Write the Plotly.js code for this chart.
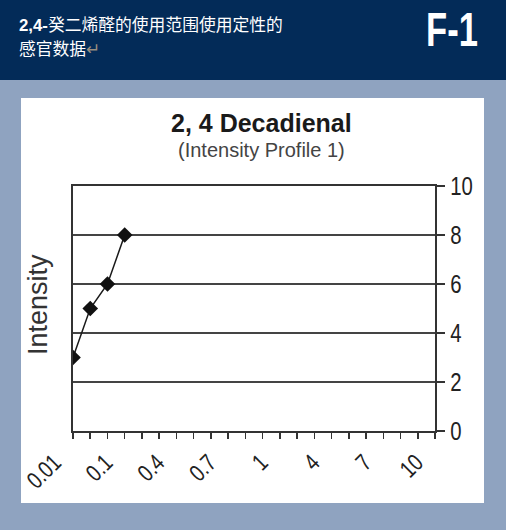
<!DOCTYPE html>
<html>
<head>
<meta charset="utf-8">
<script src="https://cdn.plot.ly/plotly-3.0.1.min.js"></script>
<style>
html,body{margin:0;padding:0;background:#8fa3c0;}
#chart{width:506px;height:530px;}
</style>
</head>
<body>
<div id="chart"></div>
<script>
// ---- data ----
const categories = ["0.01","0.04","0.07","0.1","0.2","0.3","0.4","0.5","0.6","0.7","0.8","0.9",
                    "1","2","3","4","5","6","7","8","9","10"];
const labelledCategories = ["0.01","0.1","0.4","0.7","1","4","7","10"];
const seriesX = ["0.01","0.04","0.07","0.1"];
const seriesY = [3, 5, 6, 8];
const yTicks = [0, 2, 4, 6, 8, 10];

const chartTitle = "2, 4 Decadienal";
const chartSubtitle = "(Intensity Profile 1)";
const yTitle = "Intensity";
const headerLine1 = "<b>2,4-</b>癸二烯醛的使用范围使用定性的";
const headerLine2 = "感官数据<span style='color:#9a8f80'>↵</span>";
const badge = "F-1";

// ---- geometry (pixels) ----
const W = 506, H = 530;
const L = 73, R = 435, T = 186, B = 431;
const pw = R - L, ph = B - T;
const px = x => (x - L) / pw;
const py = y => (B - y) / ph;

const sans = "Liberation Sans, Arial, sans-serif";
const cjk = "Liberation Sans, Noto Sans CJK SC, sans-serif";

const trace = {
  x: seriesX, y: seriesY, type: "scatter", mode: "lines+markers",
  line: {color: "#1a1a1a", width: 1.5},
  marker: {symbol: "diamond", size: 12, color: "#111"},
  hoverinfo: "skip"
};

const layout = {
  width: W, height: H,
  margin: {l: L, r: W - R, t: T, b: H - B, pad: 0},
  paper_bgcolor: "#8fa3c0",
  plot_bgcolor: "#ffffff",
  showlegend: false,
  xaxis: {
    type: "category", categoryorder: "array", categoryarray: categories,
    range: [0, categories.length - 1],
    tickmode: "array", tickvals: categories,
    ticktext: categories.map(c => labelledCategories.includes(c) ? c : ""),
    tickangle: -45, ticks: "outside", ticklen: 6, tickwidth: 1.5, tickcolor: "#333",
    tickfont: {family: sans, size: 24, color: "#222"},
    ticklabelshift: -19,
    showline: true, linecolor: "#333", linewidth: 2, mirror: true,
    showgrid: false, zeroline: false, fixedrange: true
  },
  yaxis: {
    side: "right", range: [0, 10], tickmode: "array", tickvals: yTicks,
    ticks: "outside", ticklen: 8, tickwidth: 1.5, tickcolor: "#333",
    tickfont: {family: sans, size: 26, color: "#222"},
    showline: true, linecolor: "#333", linewidth: 2, mirror: true,
    showgrid: true, gridcolor: "#444", gridwidth: 1.5,
    zeroline: false, fixedrange: true
  },
  shapes: [
    {type: "rect", xref: "paper", yref: "paper", layer: "below",
     x0: px(0), x1: px(W), y0: py(80), y1: py(0), fillcolor: "#032b58", line: {width: 0}},
    {type: "rect", xref: "paper", yref: "paper", layer: "below",
     x0: px(21), x1: px(484), y0: py(503), y1: py(98), fillcolor: "#ffffff", line: {width: 0}}
  ],
  annotations: [
    {text: chartTitle, xref: "paper", yref: "paper", x: px(261), y: py(123),
     xanchor: "center", yanchor: "middle", showarrow: false,
     font: {family: sans, size: 25, color: "#1a1a1a", weight: "bold"}},
    {text: chartSubtitle, xref: "paper", yref: "paper", x: px(261), y: py(150),
     xanchor: "center", yanchor: "middle", showarrow: false,
     font: {family: sans, size: 20, color: "#444"}},
    {text: yTitle, xref: "paper", yref: "paper", x: px(38), y: py(305),
     xanchor: "center", yanchor: "middle", showarrow: false, textangle: -90,
     font: {family: sans, size: 27, color: "#333"}},
    {text: headerLine1, xref: "paper", yref: "paper", x: px(17), y: py(25),
     xanchor: "left", yanchor: "middle", showarrow: false,
     font: {family: cjk, size: 16.8, color: "#ffffff"}},
    {text: headerLine2, xref: "paper", yref: "paper", x: px(17), y: py(49),
     xanchor: "left", yanchor: "middle", showarrow: false,
     font: {family: cjk, size: 16.8, color: "#ffffff"}},
    {text: badge, xref: "paper", yref: "paper", x: px(452), y: py(29),
     xanchor: "center", yanchor: "middle", showarrow: false,
     font: {family: sans, size: 48, color: "#ffffff", weight: "bold"}}
  ]
};

// Condense glyphs (the reference uses a condensed face) while keeping real text
function condense(el, factor) {
  const len = el.getComputedTextLength();
  if (len > 0) {
    el.setAttribute("textLength", (len * factor).toFixed(1));
    el.setAttribute("lengthAdjust", "spacingAndGlyphs");
  }
}

Plotly.newPlot("chart", [trace], layout, {staticPlot: true, displayModeBar: false}).then(gd => {
  gd.querySelectorAll(".xtick text, .ytick text").forEach(t => condense(t, 0.78));
  gd.querySelectorAll(".annotation-text").forEach(t => {
    if (t.textContent === badge) condense(t, 0.72);
  });
});
</script>
</body>
</html>
